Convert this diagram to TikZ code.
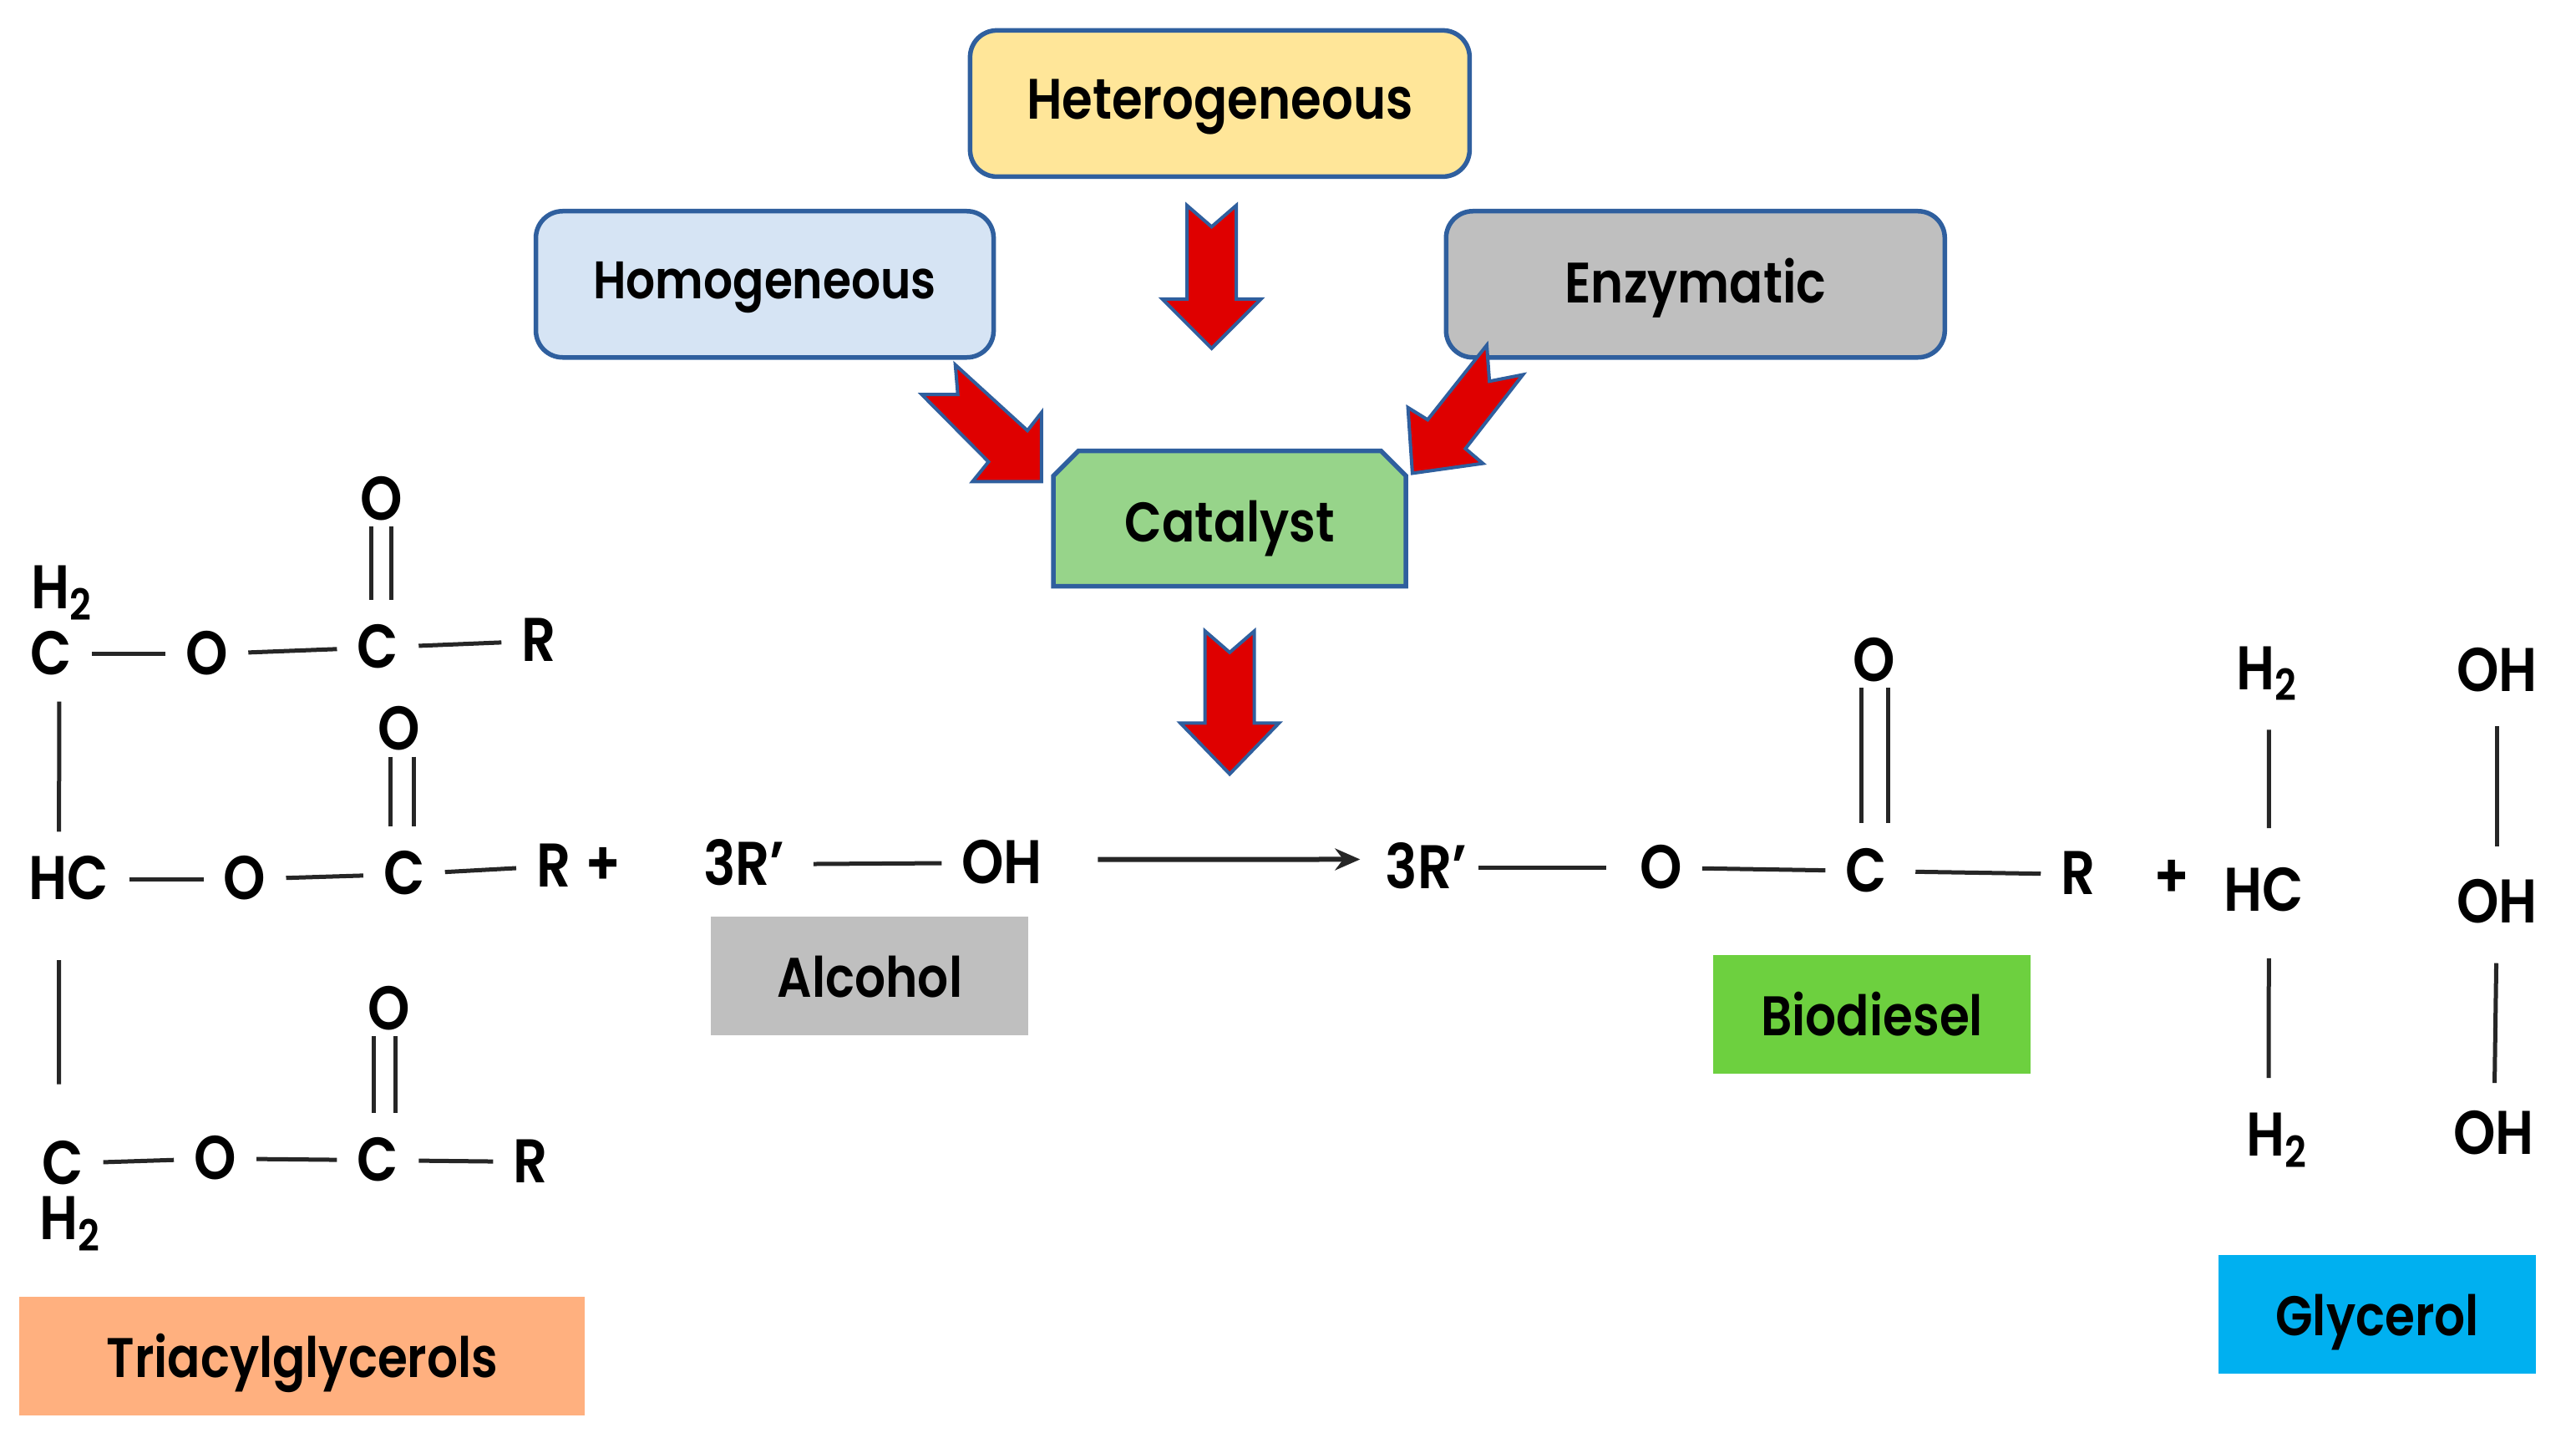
\documentclass[tikz,border=0pt]{standalone}
\usepackage{fontspec}
\setmainfont[FakeStretch=0.87]{Poppins SemiBold}
\usetikzlibrary{arrows.meta,shapes.misc}
\definecolor{outline}{HTML}{2F5F9E}
\definecolor{heterofill}{HTML}{FFE699}
\definecolor{homofill}{HTML}{D6E4F4}
\definecolor{greyfill}{HTML}{BFBFBF}
\definecolor{catfill}{HTML}{97D48A}
\definecolor{triafill}{HTML}{FFB07F}
\definecolor{biofill}{HTML}{6DD03F}
\definecolor{glyfill}{HTML}{00B0F0}
\definecolor{arrowred}{HTML}{DF0000}
\tikzset{
  kindbox/.style={draw=outline, line width=0.55mm, rounded corners=3.2mm, minimum height=1.75cm, text depth=2.7pt, font=\fontsize{19}{22}\selectfont},
  namebox/.style={minimum width=3.8cm, minimum height=1.42cm, text depth=0pt, font=\fontsize{19}{22}\selectfont},
  chem/.style={inner xsep=6.7pt, inner ysep=9pt, text height=14pt, text depth=0pt, font=\fontsize{21}{22}\selectfont},
  oxo/.style={chem, inner ysep=2pt},
  bond/.style={line width=0.5mm, black!85},
  redarrow/.style={fill=arrowred, draw=outline, line width=0.4mm, line join=miter}
}
\newcommand{\hh}{H\textsubscript{2}}
\begin{document}
\begin{tikzpicture}[x=0.019668cm, y=-0.019668cm]
\useasboundingbox (0,0) rectangle (1568,875);

% catalyst boxes
\node[kindbox, fill=heterofill, minimum width=5.98cm, font=\fontsize{19.4}{22}\selectfont] (hetero) at (742.5,63) {Heterogeneous};
\node[kindbox, fill=homofill, minimum width=5.48cm, font=\fontsize{18}{22}\selectfont] (homo) at (465.5,173) {Homogeneous};
\node[kindbox, fill=greyfill, minimum width=5.97cm, font=\fontsize{19.4}{22}\selectfont] (enzyme) at (1032,173) {Enzymatic};
\node[draw=outline, line width=0.55mm, fill=catfill, chamfered rectangle, chamfered rectangle corners={north west,north east}, chamfered rectangle xsep=1.5mm, chamfered rectangle ysep=1.5mm, minimum width=4.22cm, minimum height=1.62cm, text height=16.2pt, text depth=0pt, font=\fontsize{19}{22}\selectfont] (catalyst) at (748.5,315.5) {Catalyst};

% block arrows
\draw[redarrow] (722.5,125) -- (737.5,138) -- (752.5,125) -- (752.5,182) -- (767.5,182) -- (737.5,212) -- (707.5,182) -- (722.5,182) -- cycle;
\draw[redarrow] (733.5,384) -- (748.5,397) -- (763.5,384) -- (763.5,440) -- (778.5,440) -- (748.5,471) -- (718.5,440) -- (733.5,440) -- cycle;
\draw[redarrow] (581.5,222) -- (625.4,262) -- (634,251) -- (634,293) -- (592,293) -- (601.7,281) -- (561,240) -- (583,240) -- cycle;
\draw[redarrow] (905,210) -- (906.6,232) -- (927,228) -- (892,273) -- (902.6,282) -- (859.7,288) -- (857,248) -- (869,255.4) -- cycle;

% triacylglycerol
\node[oxo] (oa) at (232,304) {O};
\node[chem] at (38,358) {\hh};
\node[chem] (ca) at (31,398) {C};
\node[chem] (ea) at (126,398) {O};
\node[chem] (cca) at (230,394) {C};
\node[chem] (ra) at (328,390) {R};
\node[oxo] (ob) at (243,444) {O};
\node[chem] (hc) at (42,535) {HC};
\node[chem] (eb) at (149,535) {O};
\node[chem] (ccb) at (246,532) {C};
\node[chem] (rb) at (337,527) {R};
\node[chem] (plusa) at (367,526) {+};
\node[oxo] (oc) at (237,614) {O};
\node[chem] (cc) at (38,708) {C};
\node[chem] (ec) at (131,705) {O};
\node[chem] (ccc) at (230,706) {C};
\node[chem] (rc) at (323,707) {R};
\node[chem] at (43,742) {\hh};
\draw[bond] (ca) -- (ea);
\draw[bond] (ea) -- (cca);
\draw[bond] (cca) -- (ra);
\draw[bond] (hc) -- (eb);
\draw[bond] (eb) -- (ccb);
\draw[bond] (ccb) -- (rb);
\draw[bond] (cc) -- (ec);
\draw[bond] (ec) -- (ccc);
\draw[bond] (ccc) -- (rc);
\draw[bond] ([xshift=1mm]ca.south) -- ([xshift=-1.2mm]hc.north);
\draw[bond, shorten <=4mm, shorten >=3.8mm] ([xshift=-1.2mm]hc.south) -- ([xshift=-0.4mm]cc.north);
\foreach \s in {-1,1}{
  \draw[bond] ([xshift=\s*1.2mm]oa.south) -- ([xshift=\s*1.2mm]oa.south |- cca.north);
  \draw[bond] ([xshift=\s*1.4mm+0.4mm]ob.south) -- ([xshift=\s*1.4mm+0.4mm]ob.south |- ccb.north);
  \draw[bond] ([xshift=\s*1.3mm-0.6mm]oc.south) -- ([xshift=\s*1.3mm-0.6mm]oc.south |- ccc.north);
}

% alcohol
\node[chem] (rrl) at (453,526) {3R'};
\node[chem] (ohl) at (610,525) {OH};
\draw[bond, shorten <=1mm] (rrl) -- (ohl);

% biodiesel
\node[chem] (rrr) at (868,528) {3R'};
\node[chem] (ed) at (1011,528) {O};
\node[chem] (ccd) at (1136,530) {C};
\node[chem] (rd) at (1265,532) {R};
\node[oxo] (od) at (1141,402) {O};
\node[chem] (plusb) at (1322,534) {+};
\draw[bond, shorten <=-1mm, shorten >=1.6mm] (rrr) -- (ed);
\draw[bond] (ed) -- (ccd);
\draw[bond, shorten <=1mm] (ccd) -- (rd);
\foreach \s in {-1,1}{
  \draw[bond] ([xshift=\s*1.6mm]od.south) -- ([xshift=\s*1.6mm]od.south |- ccd.north);
}

% reaction arrow
\draw[bond, line width=0.6mm, -{Stealth[length=3mm, width=2.6mm]}, shorten <=4.2mm, shorten >=0.6mm] ([yshift=0.4mm]ohl.east) -- ([yshift=1mm]rrr.west);

% glycerol
\node[chem] (ha) at (1380,407) {\hh};
\node[chem] (hd) at (1378,542) {HC};
\node[chem] (hb) at (1386,691) {\hh};
\node[chem] (oha) at (1520,408) {OH};
\node[chem] (ohb) at (1520,549) {OH};
\node[chem] (ohc) at (1518,690) {OH};
\draw[bond, shorten <=1.6mm, shorten >=1.8mm] ([xshift=0.2mm]ha.south) -- ([xshift=0.6mm]hd.north);
\draw[bond, shorten <=2.4mm, shorten >=1.2mm] ([xshift=0.6mm]hd.south) -- ([xshift=-1mm]hb.north);
\draw[bond, shorten <=1mm, shorten >=1mm] (oha) -- (ohb);
\draw[bond, shorten <=1.6mm, shorten >=0.4mm] (ohb) -- (ohc);

% name boxes
\node[namebox, fill=triafill, minimum width=6.77cm] (trianame) at (184,825) {Triacylglycerols};
\node[namebox, fill=greyfill] (alcname) at (529.5,594) {Alcohol};
\node[namebox, fill=biofill] (bioname) at (1139.5,617) {Biodiesel};
\node[namebox, fill=glyfill] (glyname) at (1447,800) {Glycerol};
\end{tikzpicture}
\end{document}
